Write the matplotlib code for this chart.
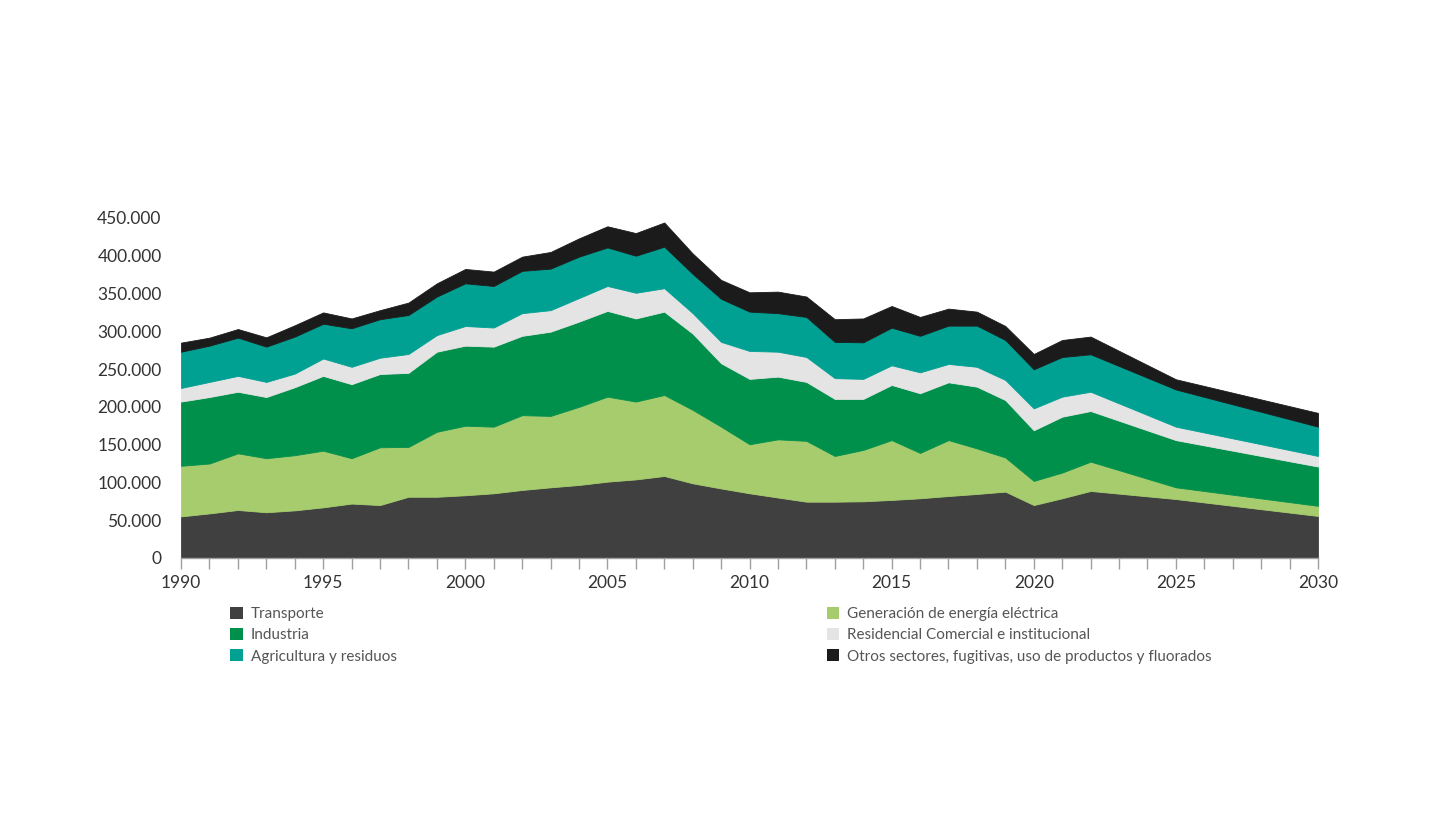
import matplotlib.pyplot as plt
import numpy as np
from matplotlib.patches import Patch
from matplotlib.ticker import FuncFormatter, MultipleLocator

plt.rcParams['font.family'] = ['Lato', 'DejaVu Sans']

years = [1990, 1991, 1992, 1993, 1994, 1995, 1996, 1997, 1998, 1999,
         2000, 2001, 2002, 2003, 2004, 2005, 2006, 2007, 2008, 2009,
         2010, 2011, 2012, 2013, 2014, 2015, 2016, 2017, 2018, 2019,
         2020, 2021, 2022, 2025, 2030]

# values in thousand t CO2e
transporte = [55, 59, 63.5, 60.5, 63, 67, 72, 70, 81, 81,
              83, 85.6, 90, 93.5, 96.6, 101, 104, 108.5, 98.8, 92,
              85.6, 80, 74.5, 74.5, 75, 76.8, 79, 82, 84.7, 87.8,
              70, 79, 88.7, 78, 55.6]
generacion = [67, 66, 75, 71.5, 73, 75, 60, 76.5, 66, 86,
              92, 88.2, 99, 94.5, 103.4, 112.5, 103, 107.2, 97.2, 81.8,
              64.9, 77, 80.5, 60.5, 68, 79.2, 60, 74, 60.3, 45.2,
              32, 34, 38.8, 15.5, 13.4]
industria = [85, 88, 81.5, 81, 90, 99, 98, 97, 98, 106,
             106, 105.9, 105, 111.5, 112.8, 113.5, 110, 110.3, 101, 83.9,
             86.5, 83, 78, 75.5, 67.5, 73, 79, 76.5, 81.7, 76,
             67, 74, 67, 62.5, 52]
residencial = [18, 20, 21, 20, 18, 23, 23, 21.5, 25, 22,
               26, 25.3, 30, 28.5, 31.2, 33, 34, 31, 27, 28.3,
               37, 33, 33, 27.5, 26.5, 26, 27.7, 24.3, 26.3, 26.6,
               29, 26.5, 25.5, 17.8, 14]
agricultura = [48, 48, 50.6, 46.7, 49, 46, 51, 51, 51.6, 51,
               56.5, 55, 56, 55, 54.8, 51, 49, 55, 52, 57,
               52, 51, 53, 48, 48.4, 49.8, 48.3, 50.7, 54.5, 52.9,
               51.7, 52.5, 49.6, 49.2, 38.8]
otros = [12, 10.6, 11.4, 12.3, 15, 15, 13, 12, 16.4, 17.5,
         19, 19, 18.8, 22, 24.2, 28, 30, 32, 27, 25,
         25.6, 28.5, 27, 30, 31.6, 28.7, 25, 22.5, 18.5, 18.5,
         20.3, 22.5, 23.4, 13.5, 18.2]

labels = ["Transporte", "Generación de energía eléctrica", "Industria",
          "Residencial Comercial e institucional", "Agricultura y residuos",
          "Otros sectores, fugitivas, uso de productos y fluorados"]
colors = ["#404040", "#a6cc6e", "#00904c", "#e4e4e4", "#00a093", "#1b1b1b"]

series = [np.array(s) * 1000 for s in
          (transporte, generacion, industria, residencial, agricultura, otros)]

fig = plt.figure(figsize=(14.45, 8.13), dpi=100)
ax = fig.add_axes([0.1253, 0.3137, 0.7868, 0.4182])

polys = ax.stackplot(years, *series, colors=colors, labels=labels)
for p, c in zip(polys, colors):
    p.set_edgecolor(c)
    p.set_linewidth(0.6)

ax.set_xlim(1990, 2030)
ax.set_ylim(0, 450000)

for s in ("top", "right", "left"):
    ax.spines[s].set_visible(False)
ax.spines["bottom"].set_color("#a0a0a0")
ax.spines["bottom"].set_linewidth(1.0)

ax.xaxis.set_major_locator(MultipleLocator(5))
ax.xaxis.set_minor_locator(MultipleLocator(1))
ax.tick_params(axis="x", which="both", direction="out", length=8,
               color="#a0a0a0", width=1, labelsize=12.5, labelcolor="#333333", pad=4)
ax.yaxis.set_major_locator(MultipleLocator(50000))
ax.yaxis.set_major_formatter(FuncFormatter(lambda v, _: f"{int(v):,}".replace(",", ".")))
ax.tick_params(axis="y", length=0, labelsize=12.5, labelcolor="#333333", pad=14)

tc = "#555555"
h = [Patch(facecolor=c, edgecolor="none") for c in colors]
legend_kw = dict(loc="upper left", frameon=False, fontsize=11, handlelength=0.8,
                 handleheight=0.8, handletextpad=0.55, labelspacing=0.45,
                 labelcolor=tc, borderpad=0, borderaxespad=0)
fig.legend([h[0], h[2], h[4]], [labels[0], labels[2], labels[4]],
           bbox_to_anchor=(0.1595, 0.253), **legend_kw)
fig.legend([h[1], h[3], h[5]], [labels[1], labels[3], labels[5]],
           bbox_to_anchor=(0.572, 0.253), **legend_kw)

fig.savefig("out.png", dpi=100)
